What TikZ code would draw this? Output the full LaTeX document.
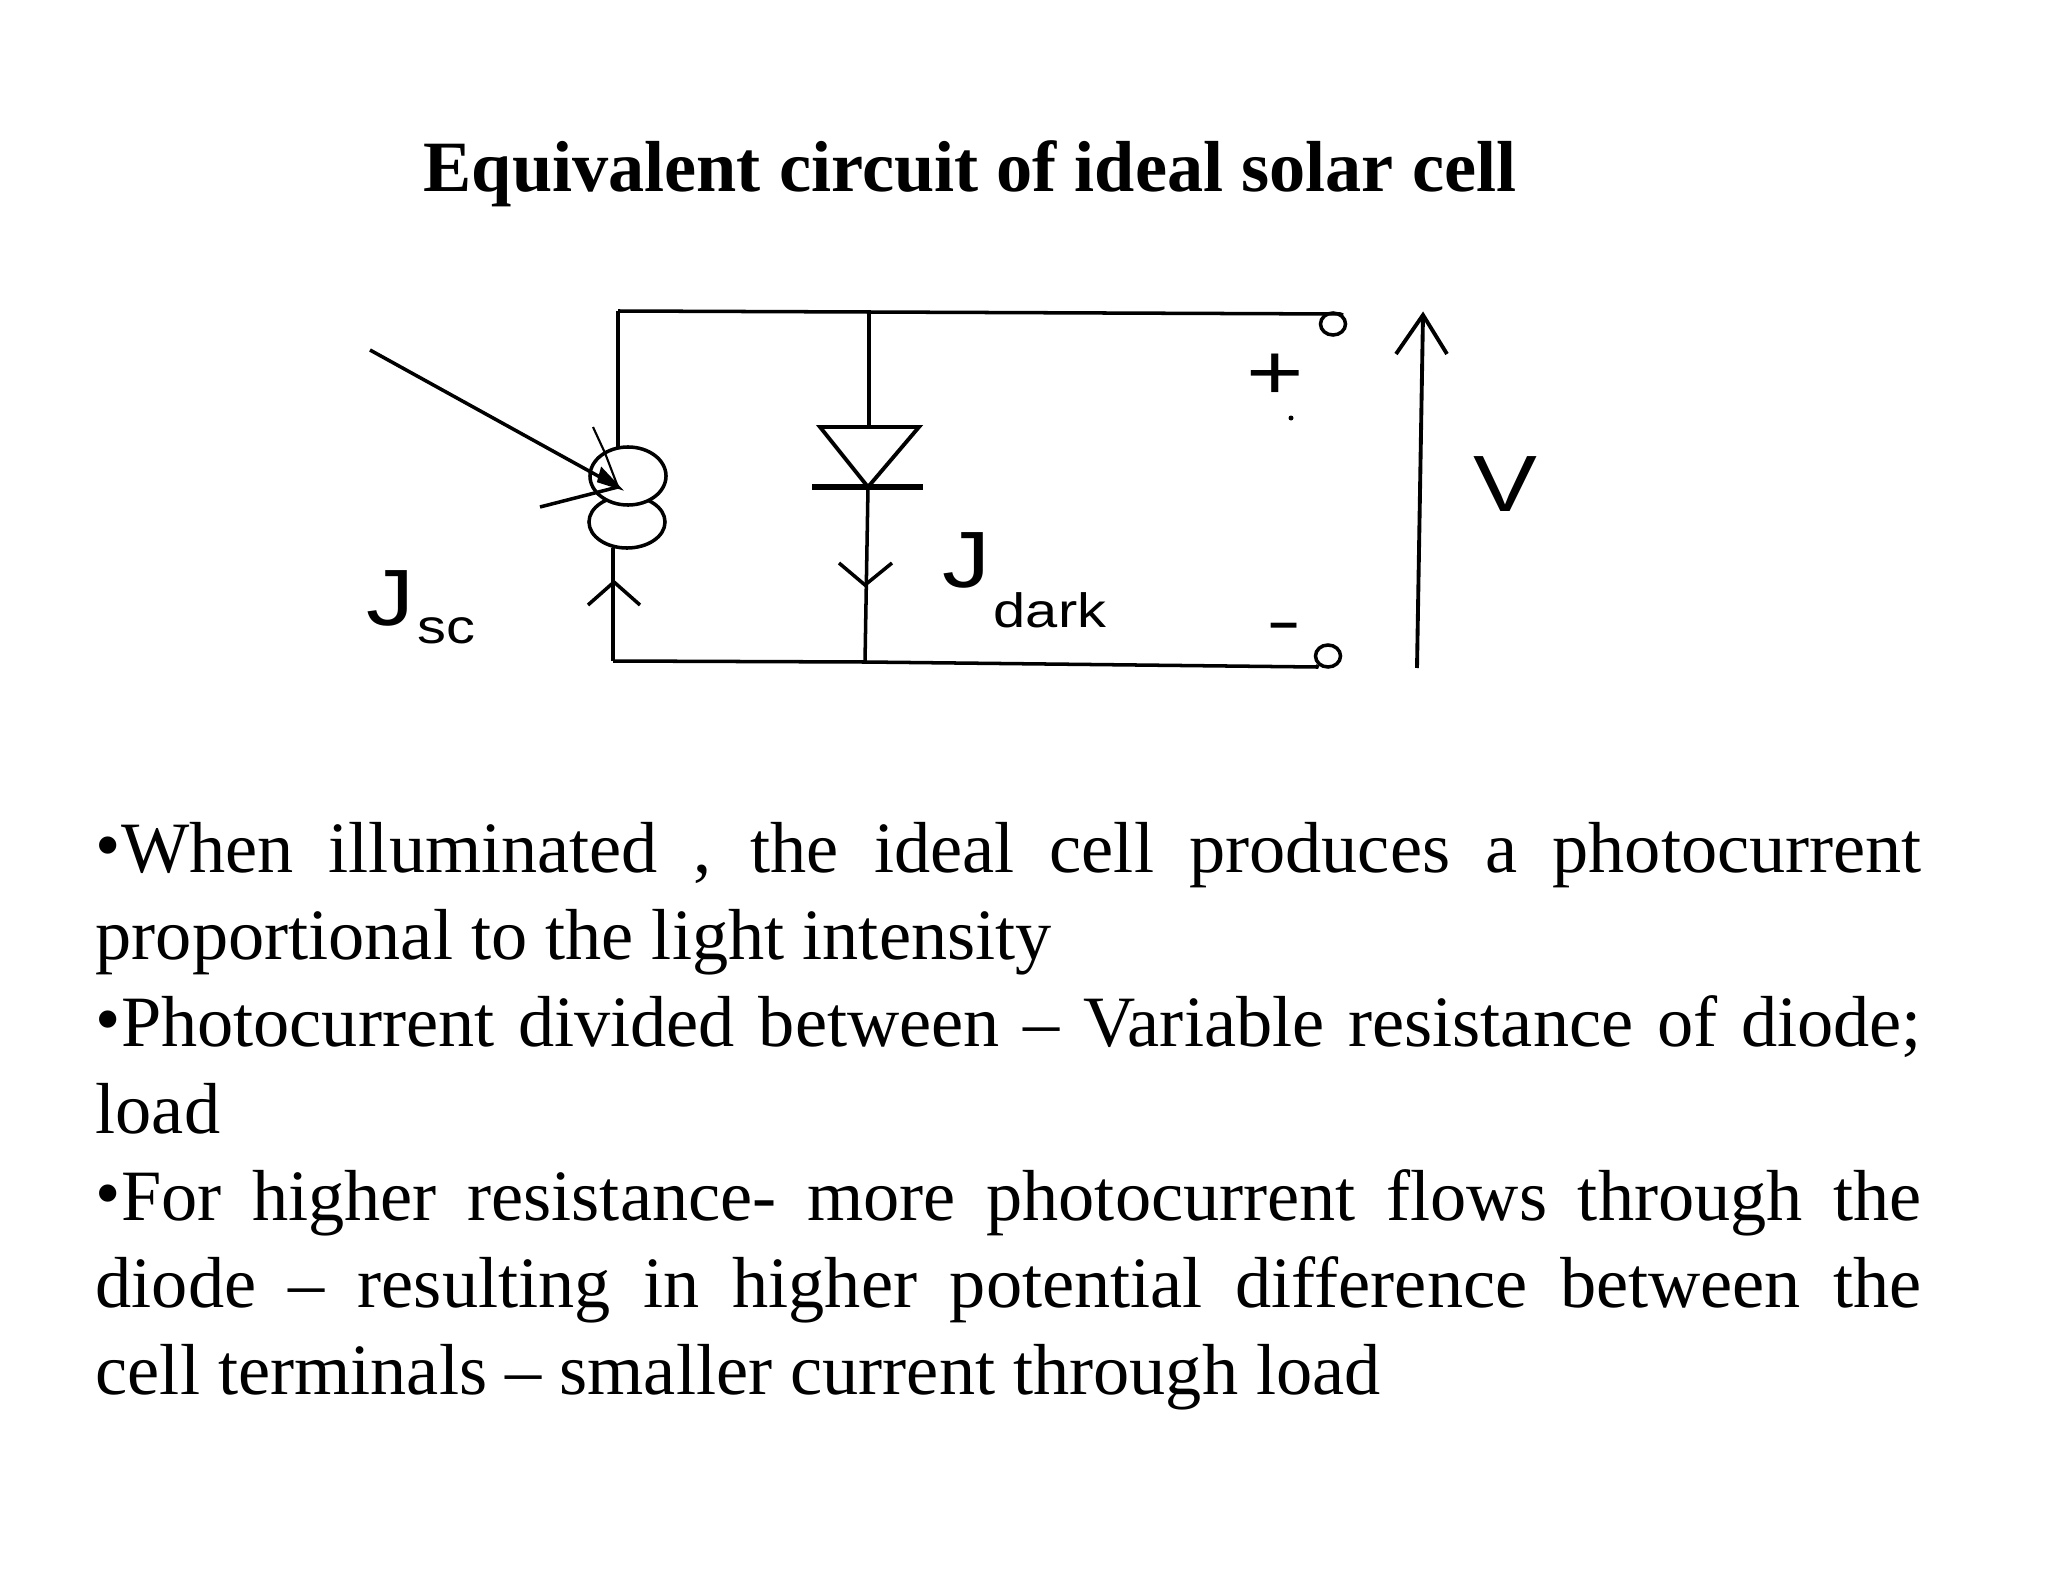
\documentclass[tikz,border=0pt]{standalone}
\usepackage{fontspec}
\setmainfont{Liberation Serif}
\newfontfamily\circuitfont{Liberation Sans}
\usetikzlibrary{shapes.geometric}
\newcommand{\bulletmark}{\raisebox{0.04em}{•}}
\newcommand{\wide}[1]{\scalebox{1.2}[1]{#1}}
\tikzset{
  wire/.style={line width=1pt},
  thinwire/.style={line width=0.6pt},
  lobe/.style={ellipse,draw,fill=white,line width=1pt,inner sep=0pt},
  terminal/.style={ellipse,draw,line width=1pt,inner sep=0pt,minimum width=0.25cm,minimum height=0.22cm},
  sign/.style={font=\circuitfont\fontsize{22.7pt}{24pt}\selectfont,inner sep=0pt,anchor=base west},
  subsign/.style={font=\circuitfont\fontsize{13.7pt}{15pt}\selectfont,inner sep=0pt,anchor=base west}
}
\begin{document}
\begin{tikzpicture}[x=0.01cm,y=-0.01cm]
  \useasboundingbox (0,0) rectangle (2048,1582);
  \node[font=\bfseries\fontsize{20.55pt}{24pt}\selectfont,inner sep=0pt,anchor=base] (title) at (970,192) {Equivalent circuit of ideal solar cell};
  % source
  \node[lobe,minimum width=0.76cm,minimum height=0.52cm] (lower) at (627,522) {};
  \node[lobe,minimum width=0.76cm,minimum height=0.58cm] (upper) at (628,476) {};
  \node[terminal] (plus) at (1333,324) {};
  \node[terminal] (minus) at (1328,656) {};
  \coordinate (topleft) at (618,311);
  \coordinate (topmid) at (869,312);
  \coordinate (topright) at (1340,314);
  \coordinate (botleft) at (613,661);
  \coordinate (botmid) at (865,662);
  \coordinate (botright) at (1317,667);
  \draw[wire] (topleft)--(topmid)--(topright)--(plus.north east);
  \draw[wire] (botleft)--(botmid)--(botright)--(minus.south west);
  \draw[wire] (topleft)--(618,447);
  \draw[wire] (613,548)--(botleft);
  \draw[wire] (588,605)--(614,582)--(640,605);
  % light
  \coordinate (ray) at (618,487);
  \draw[wire] (370,350)--(ray);
  \draw[wire] (540,507)--(ray);
  \draw[thinwire] (593,427)--(605,453)--(ray);
  \draw[wire,fill=black] (ray)--(602,470)--(599,481)--cycle;
  % diode
  \coordinate (anode) at (869,427);
  \coordinate (cathode) at (868,487);
  \draw[wire] (topmid)--(anode);
  \draw[line width=1.1pt] (820,427)--(919,427)--(cathode)--cycle;
  \draw[line width=1.5pt] (812,487)--(923,487);
  \draw[wire] (cathode)--(botmid);
  \draw[wire] (839,563)--(865,585)--(892,563);
  % voltage
  \coordinate (vtop) at (1423,315);
  \coordinate (vbot) at (1417,668);
  \draw[line width=1.1pt] (vbot)--(vtop);
  \draw[line width=1.1pt] (1396,354)--(vtop)--(1447,354);
  % labels
  \node[sign] (vlabel) at (1473,511) {\wide{V}};
  \node[sign] (jsc) at (366,625) {\wide{J}};
  \node[subsign] (sc) at (417,643) {\wide{sc}};
  \node[sign] (jdark) at (942,587) {\wide{J}};
  \node[subsign] (dark) at (993,627) {\wide{dark}};
  \node[font=\circuitfont\fontsize{28pt}{30pt}\selectfont,inner sep=0pt] (plussign) at (1275,377) {\scalebox{1}[0.8]{+}};
  \node[font=\circuitfont\fontsize{30pt}{30pt}\selectfont,inner sep=0pt] (minussign) at (1284,633) {\scalebox{1}[0.6]{-}};
  \fill (1291,418) circle (2.5);
  % text
  \node[anchor=north west,inner sep=0pt,text width=18.25cm,align=justify,font=\fontsize{20.56pt}{24.7pt}\selectfont] (body) at (95,822) {%
    \bulletmark When illuminated , the ideal cell produces a photocurrent\linebreak proportional to the light intensity\par
    \bulletmark Photocurrent divided between – Variable resistance of diode;\linebreak load\par
    \bulletmark For higher resistance- more photocurrent flows through the\linebreak diode – resulting in higher potential difference between the\linebreak cell terminals – smaller current through load};
\end{tikzpicture}
\end{document}
